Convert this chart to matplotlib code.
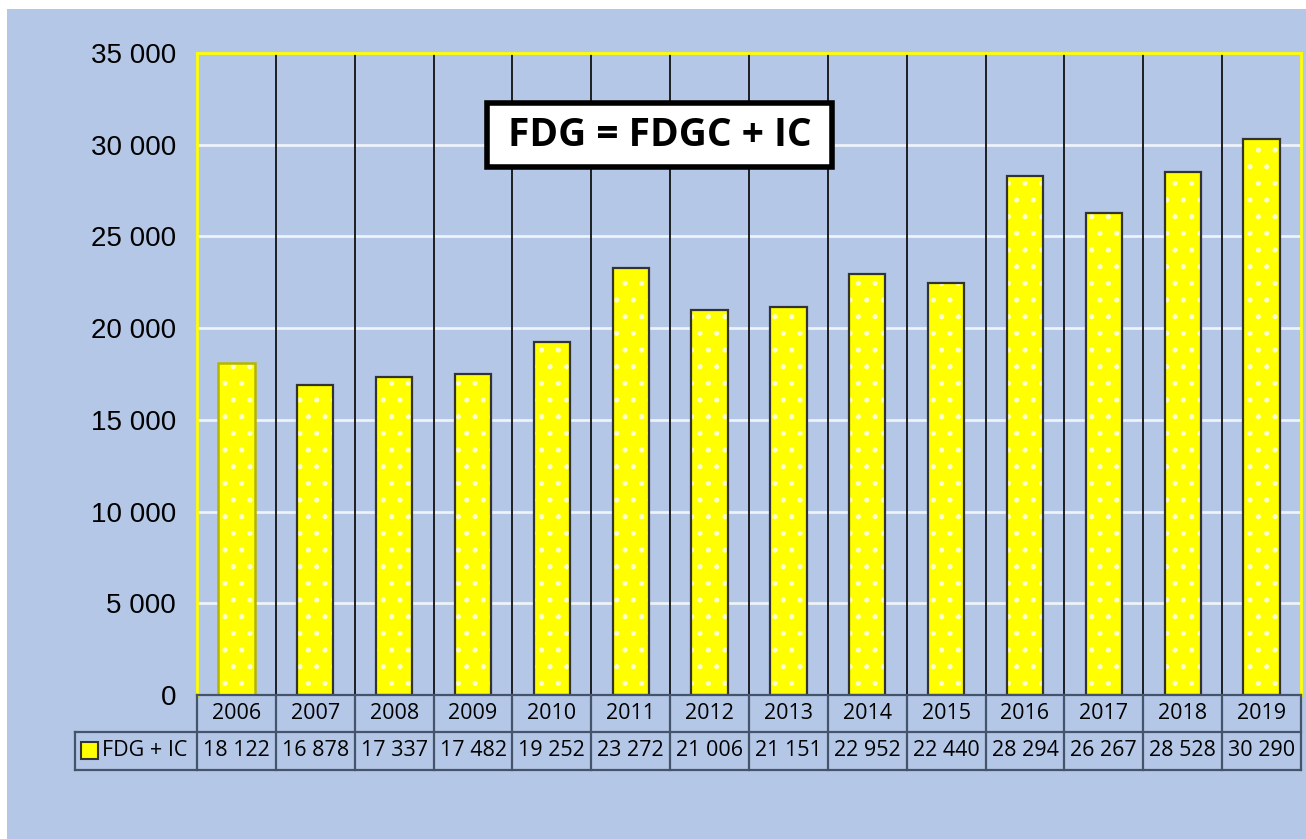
import matplotlib
matplotlib.use("Agg")
import matplotlib.pyplot as plt
import matplotlib.transforms as mtransforms
from matplotlib.patches import Rectangle

years = ["2006", "2007", "2008", "2009", "2010", "2011", "2012", "2013",
         "2014", "2015", "2016", "2017", "2018", "2019"]
values = [18122, 16878, 17337, 17482, 19252, 23272, 21006, 21151,
          22952, 22440, 28294, 26267, 28528, 30290]
series_name = "FDG + IC"
title_text = "FDG = FDGC + IC"
yticks = [0, 5000, 10000, 15000, 20000, 25000, 30000, 35000]

W, H = 1306, 839
BG = "#B4C7E7"
TBL = "#44546A"

plt.rcParams["hatch.linewidth"] = 1.3

fig = plt.figure(figsize=(W / 100, H / 100), dpi=100)
fig.patch.set_facecolor("white")
fig.patches.append(Rectangle((7 / W, 0), 1 - 7 / W, 1 - 9 / H, transform=fig.transFigure,
                             facecolor=BG, edgecolor="none", zorder=-10))

ax_l, ax_r, ax_t, ax_b = 197, 1301, 53, 695
ax = fig.add_axes([ax_l / W, 1 - ax_b / H, (ax_r - ax_l) / W, (ax_b - ax_t) / H])
ax.set_facecolor(BG)
n = len(years)
x = list(range(n))
ax.set_xlim(-0.5, n - 0.5)
ax.set_ylim(0, 35000)

# gridlines
for yv in yticks[1:-1]:
    ax.axhline(yv, color="#EEF2F9", lw=2, zorder=1)
for k in range(1, n):
    ax.axvline(k - 0.5, color="#111111", lw=1.3, zorder=1)

# bar fill with white dot pattern, then outline
ax.bar(x, values, width=0.46, color="#FFFF00", edgecolor="#FFFFCC",
       linewidth=0, hatch=".", zorder=3)
bars = ax.bar(x, values, width=0.46, color="none", edgecolor="#333333",
              linewidth=1.6, zorder=4)
bars[0].set_edgecolor("#B5B500")
bars[0].set_linewidth(1.8)

for s in ["top", "left", "right"]:
    ax.spines[s].set_color("#FFFF00")
    ax.spines[s].set_linewidth(2)
ax.spines["bottom"].set_visible(False)

ax.set_yticks(yticks)
ax.set_yticklabels([f"{v:,}".replace(",", " ") for v in yticks],
                   fontsize=20, family="Liberation Sans")
ax.tick_params(axis="y", length=0, pad=15)
ax.set_xticks([])

# table below
tr = mtransforms.blended_transform_factory(ax.transData, ax.transAxes)
ph = ax_b - ax_t
pw = (ax_r - ax_l) / n
y0 = 0
y1 = -(732 - ax_b) / ph
y2 = -(770 - ax_b) / ph
xl = (75 - ax_l) / pw - 0.5
lkw = dict(color=TBL, lw=1.6, transform=tr, clip_on=False, zorder=5)
ax.plot([-0.5, n - 0.5], [y0, y0], **lkw)
ax.plot([xl, n - 0.5], [y1, y1], **lkw)
ax.plot([xl, n - 0.5], [y2, y2], **lkw)
ax.plot([xl, xl], [y1, y2], **lkw)
for k in range(n + 1):
    ax.plot([k - 0.5, k - 0.5], [y0, y2], **lkw)

tfont = dict(family="Open Sans", fontsize=15.5, color="black")
for i in range(n):
    ax.text(x[i], (y0 + y1) / 2, years[i], ha="center", va="center",
            transform=tr, clip_on=False, **tfont)
    ax.text(x[i], (y1 + y2) / 2, f"{values[i]:,}".replace(",", " "), ha="center",
            va="center", transform=tr, clip_on=False, **tfont)

# legend key in table
sq_x0 = (81 - ax_l) / pw - 0.5
sq_w = 17 / pw
sq_y0 = -(759 - ax_b) / ph
sq_h = 17 / ph
ax.add_patch(Rectangle((sq_x0, sq_y0), sq_w, sq_h, transform=tr, clip_on=False,
                       facecolor="#FFFF00", edgecolor="#333333", lw=1.5, zorder=6))
ax.text((102 - ax_l) / pw - 0.5, (y1 + y2) / 2, series_name, ha="left", va="center",
        transform=tr, clip_on=False, **tfont)

# title box
bx0, bx1, by0, by1 = 487, 832, 103, 167
fig.patches.append(Rectangle((bx0 / W, 1 - by1 / H), (bx1 - bx0) / W, (by1 - by0) / H,
                             transform=fig.transFigure, facecolor="white",
                             edgecolor="black", lw=4, zorder=10))
fig.text((bx0 + bx1) / 2 / W, 1 - (by0 + by1) / 2 / H, title_text, ha="center", va="center",
         family="Open Sans", fontweight="bold", fontsize=28, color="black", zorder=11)

fig.savefig("out.png", dpi=100, facecolor=fig.get_facecolor())
